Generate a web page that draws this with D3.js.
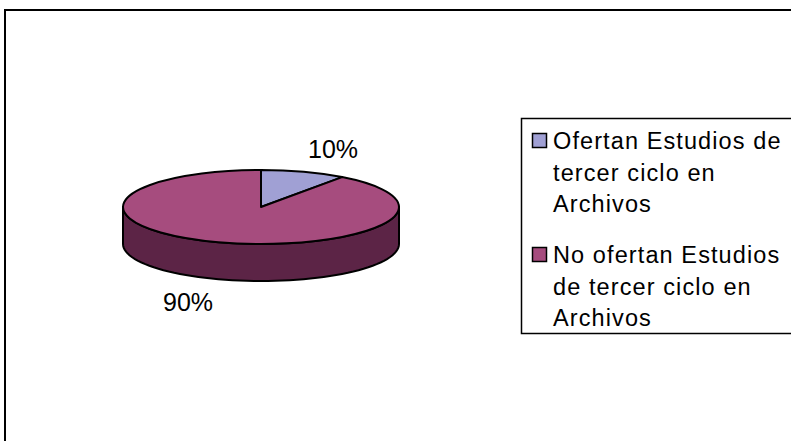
<!DOCTYPE html>
<html>
<head>
<meta charset="utf-8">
<script src="https://cdn.jsdelivr.net/npm/d3@7"></script>
<style>
  body { margin: 0; background: #fff; }
  svg { display: block; }
</style>
</head>
<body>
<svg width="791" height="441"></svg>
<script>
var categories = ["Ofertan Estudios de tercer ciclo en Archivos",
                  "No ofertan Estudios de tercer ciclo en Archivos"];
var values = [10, 90];
var value_labels = ["10%", "90%"];
var legend_lines = [["Ofertan Estudios de", "tercer ciclo en", "Archivos"],
                    ["No ofertan Estudios", "de tercer ciclo en", "Archivos"]];

var top_colors = ["#a0a0d4", "#a64c7e"];
var side_colors = ["#6a6a8e", "#5c2446"];

var svg = d3.select("svg"),
    width = +svg.attr("width"),
    height = +svg.attr("height");

// chart frame, right and bottom edges fall outside the picture
svg.append("rect")
    .attr("x", 5).attr("y", 10)
    .attr("width", 900).attr("height", 600)
    .attr("fill", "#fff").attr("stroke", "#000").attr("stroke-width", 2);

var cx = 261, cy = 207, rx = 138, ry = 37, depth = 37;

var pie = d3.pie().sort(null).value(function (d) { return d; });
var arcs = pie(values);

function pt(a, dy) {
    return [cx + rx * Math.sin(a), cy - ry * Math.cos(a) + (dy || 0)];
}

var g = svg.append("g");

// side walls, only the front half (angles between PI/2 and 3PI/2) is seen
arcs.forEach(function (d, i) {
    var a0 = Math.max(d.startAngle, Math.PI / 2),
        a1 = Math.min(d.endAngle, Math.PI * 3 / 2);
    if (a1 <= a0) return;
    var n = 60, p = d3.path();
    d3.range(n + 1).forEach(function (k) {
        var q = pt(a0 + (a1 - a0) * k / n);
        if (k === 0) p.moveTo(q[0], q[1]); else p.lineTo(q[0], q[1]);
    });
    d3.range(n, -1, -1).forEach(function (k) {
        var q = pt(a0 + (a1 - a0) * k / n, depth);
        p.lineTo(q[0], q[1]);
    });
    p.closePath();
    g.append("path")
        .attr("d", p.toString())
        .attr("fill", side_colors[i])
        .attr("stroke", "#000").attr("stroke-width", 2)
        .attr("stroke-linejoin", "round");
});

// top faces
arcs.forEach(function (d, i) {
    var s = pt(d.startAngle), e = pt(d.endAngle);
    var large = (d.endAngle - d.startAngle) > Math.PI ? 1 : 0;
    var path = "M" + cx + "," + cy + "L" + s[0] + "," + s[1] +
        "A" + rx + "," + ry + " 0 " + large + " 1 " + e[0] + "," + e[1] + "Z";
    g.append("path")
        .attr("d", path)
        .attr("fill", top_colors[i])
        .attr("stroke", "#000").attr("stroke-width", 2)
        .attr("stroke-linejoin", "round");
});

// value labels
var label_pos = [[308, 158], [163, 311]];
svg.selectAll("text.val")
    .data(value_labels)
    .enter().append("text")
    .attr("class", "val")
    .attr("x", function (d, i) { return label_pos[i][0]; })
    .attr("y", function (d, i) { return label_pos[i][1]; })
    .attr("font-family", "Liberation Sans, Arial, sans-serif")
    .attr("font-size", 25)
    .attr("fill", "#000")
    .text(function (d) { return d; });

// legend
var lg = svg.append("g");
lg.append("rect")
    .attr("x", 521.5).attr("y", 118.5)
    .attr("width", 400).attr("height", 215)
    .attr("fill", "#fff").attr("stroke", "#000").attr("stroke-width", 1.5);

var entry_y = [149, 263], line_h = 31.5;
categories.forEach(function (c, i) {
    lg.append("rect")
        .attr("x", 532.5).attr("y", entry_y[i] - 15.5)
        .attr("width", 14).attr("height", 14)
        .attr("fill", top_colors[i])
        .attr("stroke", "#000").attr("stroke-width", 1.5);
    legend_lines[i].forEach(function (t, k) {
        lg.append("text")
            .attr("x", 553)
            .attr("y", entry_y[i] + k * line_h)
            .attr("font-family", "Liberation Sans, Arial, sans-serif")
            .attr("font-size", 23.5)
            .attr("letter-spacing", 1.1)
            .attr("fill", "#000")
            .text(t);
    });
});
</script>
</body>
</html>
